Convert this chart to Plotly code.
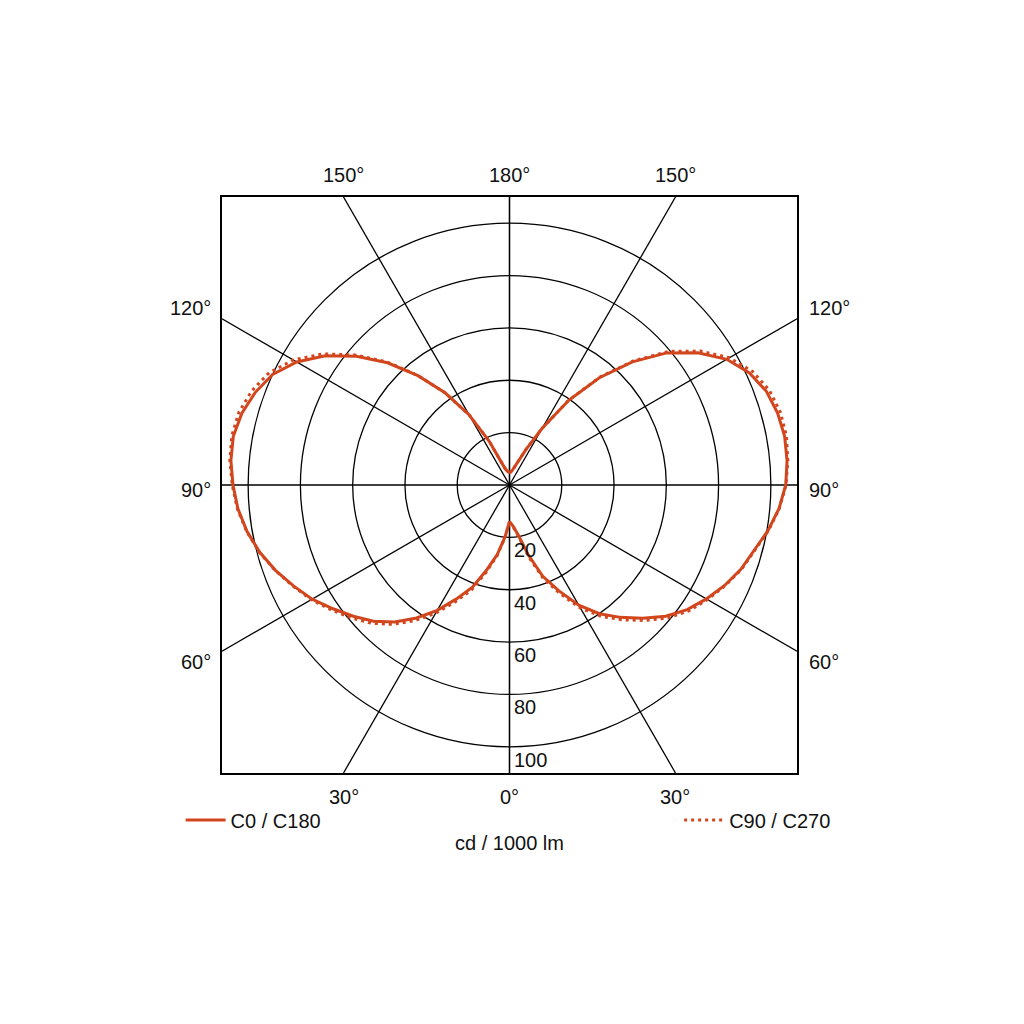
import numpy as np
import plotly.graph_objects as go

# ---------------- data (cd / 1000 lm) ----------------
GAMMA = [0, 5, 10, 15, 20, 25, 30, 35, 40, 45, 50, 55, 60, 65, 70, 75, 80, 85, 90,
         95, 100, 105, 110, 115, 120, 125, 130, 135, 140, 145, 150, 155, 160, 165, 170, 175, 180]

# C0 half-plane (drawn on the right), C180 half-plane (drawn on the left)
C0 = [14, 15.8, 19.5, 27.5, 37, 44.5, 53, 60, 66, 72, 78, 83, 87, 90.8, 94.2, 96.8, 100.4, 103.5, 105.7,
      106.6, 106.9, 106.2, 104.6, 101.3, 96, 88, 78.5, 66.5, 53.5, 39.5, 25, 15, 9, 6.5, 5.5, 5, 5]
C180 = [14, 20, 27, 33.5, 41.5, 48, 55.3, 62, 68.3, 73.6, 78, 82.4, 87.2, 91.2, 95.3, 99, 102, 104.3, 105.8,
        107, 107.3, 106, 103.5, 100, 94, 86, 76.5, 66, 54.5, 43, 31, 18.5, 9.5, 6.5, 5.5, 5, 5]
# C90 half-plane (right), C270 half-plane (left)
C90 = [14, 16, 20, 28.5, 38.2, 45.8, 54.3, 61.3, 67.2, 73.2, 79, 83.8, 87.5, 91, 94.4, 97, 100.6, 103.6, 105.8,
       106.9, 107.6, 107.3, 105.8, 102.6, 97.2, 89.2, 79.4, 67, 53.8, 39.5, 25, 15, 9, 6.5, 5.5, 5, 5]
C270 = [14, 20.2, 27.5, 34.5, 42.7, 49.3, 56.6, 63.3, 69.5, 74.7, 79, 83.2, 87.6, 91.4, 95.4, 99.1, 102.1, 104.5, 106.1,
        107.4, 107.9, 107.2, 105, 101.5, 95.5, 87.3, 77.3, 66.5, 54.7, 43, 31, 18.5, 9.5, 6.5, 5.5, 5, 5]

RINGS = [20, 40, 60, 80, 100]
RING_LABELS = ["20", "40", "60", "80", "100"]
SPOKES = [0, 30, 60, 90, 120, 150, 180]
SPOKE_LABELS = ["0°", "30°", "60°", "90°", "120°", "150°", "180°"]
SERIES_NAMES = ["C0 / C180", "C90 / C270"]
UNIT_LABEL = "cd / 1000 lm"

R_MAX = 110
COLOR = "#d2461e"
FONT = "Liberation Sans, Arial, sans-serif"


def to_xy(gamma, right, left):
    g = np.radians(np.array(gamma, dtype=float))
    r_r = np.array(right, dtype=float)
    r_l = np.array(left, dtype=float)
    x = np.concatenate([r_r * np.sin(g), (-r_l * np.sin(g))[::-1]])
    y = np.concatenate([-r_r * np.cos(g), (-r_l * np.cos(g))[::-1]])
    return x, y


fig = go.Figure()

x1, y1 = to_xy(GAMMA, C0, C180)
x2, y2 = to_xy(GAMMA, C90, C270)

fig.add_trace(go.Scatter(x=x2, y=y2, mode="lines", name=SERIES_NAMES[1],
                         line=dict(color=COLOR, width=3, dash="3px,4px"),
                         legend="legend2", hoverinfo="skip"))
fig.add_trace(go.Scatter(x=x1, y=y1, mode="lines", name=SERIES_NAMES[0],
                         line=dict(color=COLOR, width=3), legend="legend", hoverinfo="skip"))

shapes = []
for r in RINGS:
    shapes.append(dict(type="circle", xref="x", yref="y", x0=-r, x1=r, y0=-r, y1=r,
                       line=dict(color="black", width=1.3), layer="below"))
for a in SPOKES:
    for side in (1, -1):
        dx = side * np.sin(np.radians(a))
        dy = -np.cos(np.radians(a))
        t = R_MAX / max(abs(dx), abs(dy))
        shapes.append(dict(type="line", xref="x", yref="y", x0=0, y0=0, x1=t * dx, y1=t * dy,
                           line=dict(color="black", width=1.3), layer="below"))

annotations = []
fsz = 20
for a, lab in zip(SPOKES, SPOKE_LABELS):
    for side in ((1, -1) if a not in (0, 180) else (1,)):
        dx = side * np.sin(np.radians(a))
        dy = -np.cos(np.radians(a))
        t = R_MAX / max(abs(dx), abs(dy))
        ex, ey = t * dx, t * dy
        if a in (0, 30, 150, 180):
            # hits top or bottom edge
            annotations.append(dict(x=ex, y=ey, xref="x", yref="y", text=lab, showarrow=False,
                                    xanchor="center", yanchor="middle",
                                    yshift=(22 if ey > 0 else -24),
                                    font=dict(family=FONT, size=fsz, color="#111")))
        else:
            ysh = {60: -11, 90: -5, 120: 11}[a]
            annotations.append(dict(x=ex, y=ey, xref="x", yref="y", text=lab, showarrow=False,
                                    xanchor=("right" if ex < 0 else "left"), yanchor="middle",
                                    xshift=(-9 if ex < 0 else 10), yshift=ysh,
                                    font=dict(family=FONT, size=fsz, color="#111")))

for r, lab in zip(RINGS, RING_LABELS):
    annotations.append(dict(x=0, y=-r, xref="x", yref="y", text=lab, showarrow=False,
                            xanchor="left", yanchor="middle", xshift=2, yshift=-13,
                            font=dict(family=FONT, size=fsz, color="#111")))

annotations.append(dict(x=0.5, y=-0.1215, xref="paper", yref="paper", text=UNIT_LABEL,
                        showarrow=False, xanchor="center", yanchor="middle",
                        font=dict(family=FONT, size=fsz, color="#111")))

axis_common = dict(range=[-R_MAX, R_MAX], showgrid=False, zeroline=False, showticklabels=False,
                   ticks="", showline=True, mirror=True, linecolor="black", linewidth=2,
                   fixedrange=True)

fig.update_layout(
    width=1024, height=1024,
    margin=dict(l=214, r=235, t=189, b=259, pad=0),
    paper_bgcolor="white", plot_bgcolor="white",
    xaxis=axis_common, yaxis=axis_common,
    shapes=shapes, annotations=annotations,
    showlegend=True,
    legend=dict(x=-0.072, y=-0.0816, xanchor="left", yanchor="middle",
                font=dict(family=FONT, size=fsz, color="#111"), bgcolor="rgba(0,0,0,0)",
                itemwidth=40),
    legend2=dict(x=0.795, y=-0.0816, xanchor="left", yanchor="middle",
                 font=dict(family=FONT, size=fsz, color="#111"), bgcolor="rgba(0,0,0,0)",
                 itemwidth=40),
)

fig.write_html("out.html")
